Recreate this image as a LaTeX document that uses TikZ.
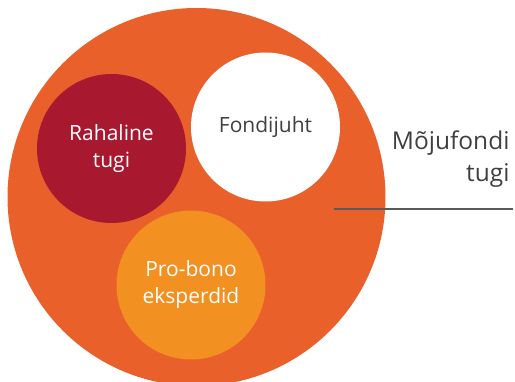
\documentclass[tikz,border=0pt]{standalone}
\usepackage{fontspec}
\setmainfont{Open Sans}
\usepackage{tikz}
\usetikzlibrary{calc, positioning}
\definecolor{fundorange}{HTML}{E9602B}
\definecolor{cashred}{HTML}{A8182F}
\definecolor{expertorange}{HTML}{F29022}
\definecolor{textgrey}{HTML}{404040}
\definecolor{linegrey}{HTML}{5A5A5A}

\begin{document}
\begin{tikzpicture}[x=1pt, y=-1pt,
	bubble/.style={circle, inner sep=0pt, minimum size=149pt, align=center, font=\fontsize{21}{27}\selectfont}]
	\useasboundingbox (0,0) rectangle (515,382);
	\clip (0,0) rectangle (515,382);
	
	\node[circle, inner sep=0pt, minimum size=378pt, fill=fundorange] (fund) at (196.5,197) {};
	
	\node[bubble, fill=cashred, text=white] (cash) at (111.5,148.5) {Rahaline\\tugi};
	\node[bubble, fill=white, text=textgrey] (manager) at (265.5,127) {Fondijuht};
	\node[bubble, fill=expertorange, text=white] (experts) at (191,285) {Pro-bono\\eksperdid};
	
	\coordinate (linestart) at (334,209);
	\coordinate (lineend) at (513,209);
	\draw[linegrey, line width=1.5pt] (linestart) -- (lineend);
	
	\node (fundlabel) at (513,182) [anchor=base east, align=right, text=textgrey, font=\fontsize{24.5}{32}\selectfont] {Mõjufondi\\tugi};
\end{tikzpicture}
\end{document}
